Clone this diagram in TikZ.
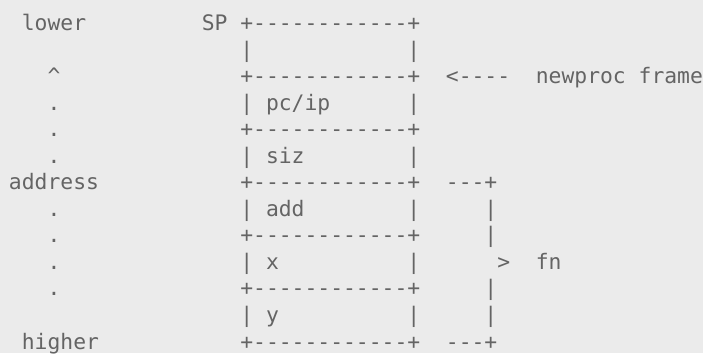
\documentclass[tikz,border=0pt]{standalone}
\usepackage{fontspec}
\setmonofont{DejaVu Sans Mono}
\usepackage{xcolor}
\usepackage{tikz}
\usetikzlibrary{positioning}

\definecolor{artbg}{HTML}{EBEBEB}
\definecolor{artfg}{HTML}{646464}
\tikzset{
  chars/.style={anchor=base west, inner sep=0pt, outer sep=0pt, text=artfg,
    font=\ttfamily\fontsize{21.35}{26.5}\selectfont},
}

\begin{document}
\begin{tikzpicture}[x=1pt,y=1pt]
  \def\cw{12.85}
  \def\lh{26.5}
  \def\colx#1{9+#1*\cw}
  \def\rowy#1{322-#1*\lh}

  \fill[artbg] (0,0) rectangle (703,353);
  \useasboundingbox (0,0) rectangle (703,353);

  % left side: direction of addresses
  \node[chars] (lower) at ({\colx{1}},{\rowy{0}}) {lower};
  \node[chars] (up) at ({\colx{3}},{\rowy{2}}) {\textasciicircum};
  \node[chars] (address) at ({\colx{0}},{\rowy{6}}) {address};
  \node[chars] (higher) at ({\colx{1}},{\rowy{12}}) {higher};
  \foreach \r in {3,4,5,7,8,9,10}
    \node[chars] (dot\r) at ({\colx{3}},{\rowy{\r}}) {.};

  % the stack
  \node[chars] (sp) at ({\colx{15}},{\rowy{0}}) {SP};
  \foreach \r in {0,2,...,12}
    \node[chars] (edge\r) at ({\colx{18}},{\rowy{\r}}) {+------------+};
  \foreach \r/\lbl in {1/{},3/{pc/ip},5/siz,7/add,9/x,11/y} {
    \node[chars] (left\r) at ({\colx{18}},{\rowy{\r}}) {|};
    \node[chars] (slot\r) at ({\colx{20}},{\rowy{\r}}) {\lbl};
    \node[chars] (right\r) at ({\colx{31}},{\rowy{\r}}) {|};
  }

  % right side: notes
  \node[chars] (arrow) at ({\colx{34}},{\rowy{2}}) {<----};
  \node[chars] (newproc) at ({\colx{41}},{\rowy{2}}) {newproc frame};
  \node[chars] (fntop) at ({\colx{34}},{\rowy{6}}) {---+};
  \node[chars] (fnbot) at ({\colx{34}},{\rowy{12}}) {---+};
  \foreach \r in {7,8,10,11}
    \node[chars] (bar\r) at ({\colx{37}},{\rowy{\r}}) {|};
  \node[chars] (brace) at ({\colx{38}},{\rowy{9}}) {>};
  \node[chars] (fn) at ({\colx{41}},{\rowy{9}}) {fn};
\end{tikzpicture}
\end{document}
